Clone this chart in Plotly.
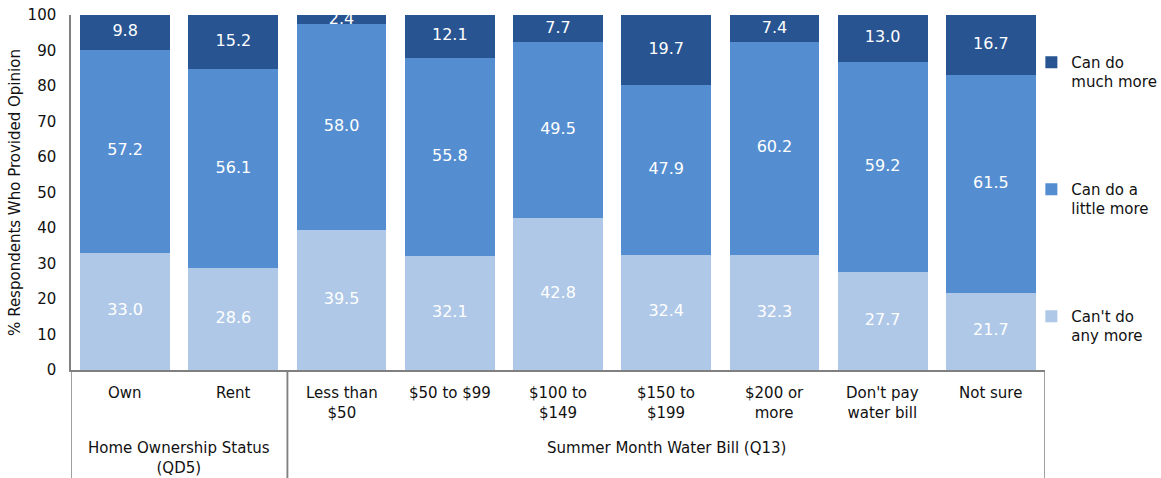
import plotly.graph_objects as go

categories = ["Own", "Rent", "Less than<br>$50", "$50 to $99", "$100 to<br>$149",
              "$150 to<br>$199", "$200 or<br>more", "Don't pay<br>water bill", "Not sure"]
cant_do_any_more = [33.0, 28.6, 39.5, 32.1, 42.8, 32.4, 32.3, 27.7, 21.7]
can_do_little_more = [57.2, 56.1, 58.0, 55.8, 49.5, 47.9, 60.2, 59.2, 61.5]
can_do_much_more = [9.8, 15.2, 2.4, 12.1, 7.7, 19.7, 7.4, 13.0, 16.7]
series_names = ["Can't do<br>any more", "Can do a<br>little more", "Can do<br>much more"]
group_labels = ["Home Ownership Status<br>(QD5)", "Summer Month Water Bill (Q13)"]
group_spans = [(0, 1), (2, 8)]
y_ticks = [0, 10, 20, 30, 40, 50, 60, 70, 80, 90, 100]

colors = ["#AFC8E7", "#558ED0", "#285592"]
FONT = "DejaVu Sans"

x_idx = list(range(len(categories)))
series = [cant_do_any_more, can_do_little_more, can_do_much_more]

fig = go.Figure()
base = [0.0] * len(categories)
for k, (vals, name, col) in enumerate(zip(series, series_names, colors)):
    fig.add_trace(go.Bar(
        x=x_idx, y=vals, name=name, marker=dict(color=col, line=dict(width=0)),
        legendgroup=name, legendrank=10 - k, hoverinfo="skip",
    ))
    mids = [b + v / 2 for b, v in zip(base, vals)]
    fig.add_trace(go.Scatter(
        x=x_idx, y=mids, mode="text", text=[f"{v:.1f}" for v in vals],
        textfont=dict(family=FONT, size=16, color="white"),
        showlegend=False, hoverinfo="skip", cliponaxis=True,
    ))
    base = [b + v for b, v in zip(base, vals)]

annotations = []
for i, c in enumerate(categories):
    annotations.append(dict(x=i, y=-0.033, xref="x", yref="paper", text=c,
                            showarrow=False, yanchor="top", xanchor="center",
                            font=dict(family=FONT, size=15, color="#111")))
for lbl, (a, b) in zip(group_labels, group_spans):
    annotations.append(dict(x=(a + b) / 2, y=-0.188, xref="x", yref="paper", text=lbl,
                            showarrow=False, yanchor="top", xanchor="center",
                            font=dict(family=FONT, size=15, color="#111")))

shapes = []
for a, b in group_spans:
    for xe in (a - 0.5, b + 0.5):
        shapes.append(dict(type="line", xref="x", yref="paper", x0=xe, x1=xe,
                           y0=0, y1=-0.31, line=dict(color="#808080", width=1.5)))

fig.update_layout(
    width=1161, height=478,
    margin=dict(l=71, r=116, t=15, b=108, autoexpand=False),
    barmode="stack", bargap=0.17,
    plot_bgcolor="white", paper_bgcolor="white",
    font=dict(family=FONT, size=15, color="#111"),
    showlegend=True,
    legend=dict(x=0.986, y=0.913, xanchor="left", yanchor="top",
                traceorder="grouped", tracegroupgap=85, valign="top",
                font=dict(family=FONT, size=15, color="#111"),
                itemwidth=30, bgcolor="rgba(0,0,0,0)"),
    xaxis=dict(range=[-0.5, 8.5], showticklabels=False, showgrid=False, zeroline=False,
               showline=True, linecolor="#808080", linewidth=1.5, ticks="",
               automargin=False),
    yaxis=dict(range=[0, 100], tickvals=y_ticks, showgrid=False, zeroline=False,
               showline=True, linecolor="#808080", linewidth=1.5, ticks="",
               ticklabelstandoff=10, automargin=False,
               tickfont=dict(family=FONT, size=15, color="#111"),
               title=dict(text="% Respondents Who Provided Opinion",
                          font=dict(family=FONT, size=15, color="#111"), standoff=3)),
    annotations=annotations, shapes=shapes,
)

fig.write_html("out.html", config={"displayModeBar": False},
               post_script="document.body.style.margin='0';")
